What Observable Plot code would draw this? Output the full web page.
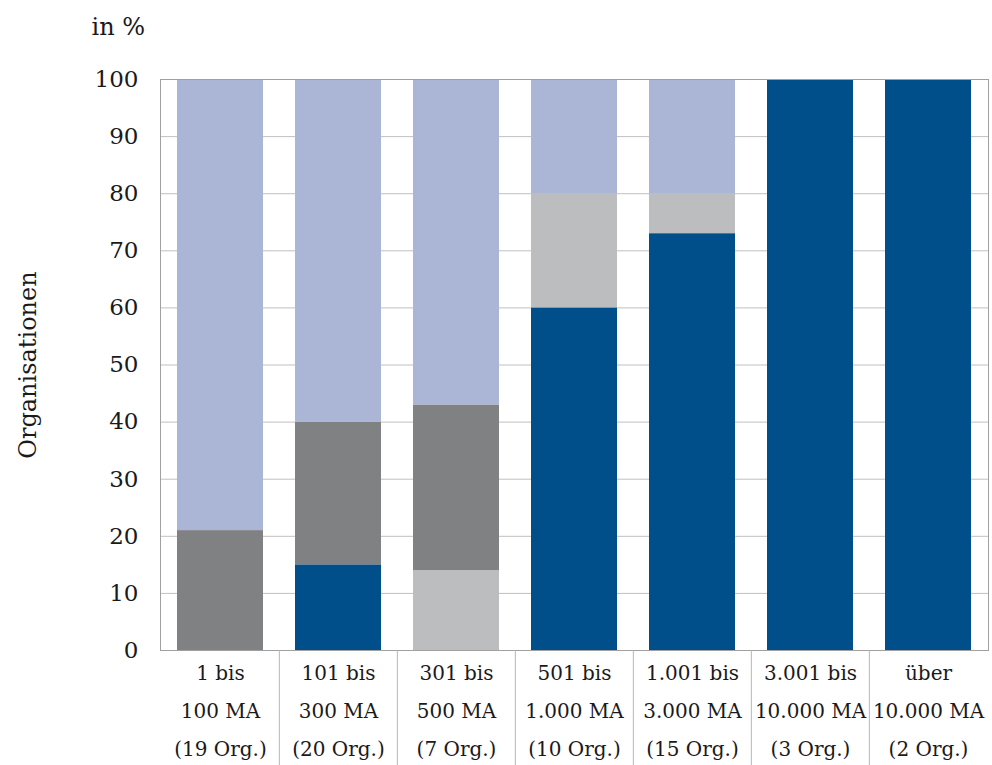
<!DOCTYPE html>
<html>
<head>
<meta charset="utf-8">
<script src="https://cdn.jsdelivr.net/npm/d3@7"></script>
<script src="https://cdn.jsdelivr.net/npm/@observablehq/plot@0.6"></script>
<style>
  html, body { margin: 0; padding: 0; background: #fff; }
  svg { display: block; }
</style>
</head>
<body>
<div id="chart"></div>
<script>
const categories = [
  "1 bis\n100 MA\n(19 Org.)",
  "101 bis\n300 MA\n(20 Org.)",
  "301 bis\n500 MA\n(7 Org.)",
  "501 bis\n1.000 MA\n(10 Org.)",
  "1.001 bis\n3.000 MA\n(15 Org.)",
  "3.001 bis\n10.000 MA\n(3 Org.)",
  "über\n10.000 MA\n(2 Org.)"
];
const seriesNames = ["Reihe 1", "Reihe 2", "Reihe 3", "Reihe 4"];
const seriesColors = ["#004f8b", "#bcbdbf", "#808183", "#abb5d6"];
const serie1 = [0, 15, 0, 60, 73, 100, 100];
const serie2 = [0, 0, 14, 20, 7, 0, 0];
const serie3 = [21, 25, 29, 0, 0, 0, 0];
const serie4 = [79, 60, 57, 20, 20, 0, 0];
const yTicks = [0, 10, 20, 30, 40, 50, 60, 70, 80, 90, 100];
const yLabel = "Organisationen";
const unitLabel = "in %";

const allSeries = [serie1, serie2, serie3, serie4];
const rows = categories.flatMap((c, i) =>
  seriesNames.map((s, j) => ({cat: c, series: s, value: allSeries[j][i]}))
);

const W = 992, H = 765, ML = 160, MR = 4, MT = 79, MB = 115;
const step = (W - ML - MR) / categories.length;
const font = "DejaVu Serif";

const chart = Plot.plot({
  width: W,
  height: H,
  marginLeft: ML,
  marginRight: MR,
  marginTop: MT,
  marginBottom: MB,
  style: {fontFamily: font, fontSize: "21px", color: "#1a1a1a", background: "#fff"},
  x: {domain: categories, paddingInner: 0.273, paddingOuter: 0.1365, axis: null},
  y: {domain: [0, 100], axis: null},
  color: {domain: seriesNames, range: seriesColors},
  marks: [
    Plot.gridY(yTicks, {stroke: "#c0c0c0", strokeOpacity: 1, strokeWidth: 1}),
    Plot.barY(rows, {x: "cat", y: "value", fill: "series"}),
    Plot.frame({stroke: "#a0a0a0", strokeWidth: 1}),
    Plot.axisY(yTicks, {tickSize: 0, tickPadding: 22, fontSize: 23, label: null, fill: "#1a1a1a"}),
    Plot.ruleX(categories.slice(1), {x: d => d, dx: -step / 2, y1: 0, y2: -20.3, stroke: "#b8b8b8", strokeWidth: 1}),
    Plot.text(categories, {x: d => d, frameAnchor: "bottom", lineAnchor: "top", dy: 3, lineHeight: 1.9, fontSize: 20, fill: "#1a1a1a"}),
    Plot.text([yLabel], {frameAnchor: "left", textAnchor: "middle", dx: -132, rotate: -90, fontSize: 24, fill: "#1a1a1a"}),
    Plot.text([unitLabel], {frameAnchor: "top-left", textAnchor: "start", lineAnchor: "bottom", dx: -69, dy: -45, fontSize: 24, fill: "#1a1a1a"})
  ]
});
document.getElementById("chart").appendChild(chart);
</script>
</body>
</html>
